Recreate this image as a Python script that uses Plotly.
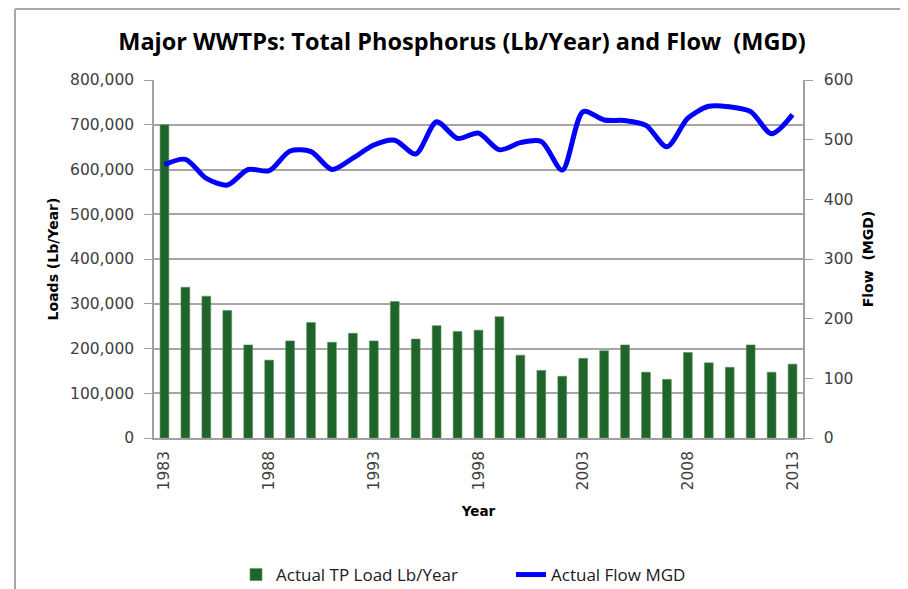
import plotly.graph_objects as go

years = list(range(1983, 2014))
tp_load = [700000, 337000, 317000, 285000, 208000, 174000, 217000, 258000, 214000, 234000,
           217000, 305000, 221000, 251000, 238000, 241000, 271000, 185000, 151000, 138000,
           178000, 195000, 208000, 147000, 131000, 191000, 168000, 158000, 208000, 147000,
           165000]
flow_mgd = [458, 467, 435, 424, 450, 448, 481, 480, 450, 469,
            491, 499, 476, 530, 502, 511, 483, 495, 497, 449,
            547, 533, 532, 524, 488, 536, 556, 555, 547, 510,
            542]
xtick_years = [1983, 1988, 1993, 1998, 2003, 2008, 2013]
load_ticks = list(range(0, 800001, 100000))
flow_ticks = list(range(0, 601, 100))

# page has an 8px body margin; figure coordinates = page coordinates - 8
OFF = 8
W, H = 908 - OFF, 589 - OFF
L, R, T, B = 154 - OFF, 803 - OFF, 80 - OFF, 438 - OFF

def px(x_page):
    return (x_page - OFF - L) / (R - L)

def py(y_page):
    return (B - (y_page - OFF)) / (B - T)

fig = go.Figure()
fig.add_trace(go.Bar(
    x=years, y=tp_load, name="Actual TP Load Lb/Year",
    marker=dict(color="#1F6428", line=dict(color="#5E8F62", width=0.6)),
    yaxis="y",
))
fig.add_trace(go.Scatter(
    x=years, y=flow_mgd, name="Actual Flow MGD", mode="lines",
    line=dict(color="#0000FF", width=5, shape="spline", smoothing=0.8),
    yaxis="y2",
))

tick_font = dict(family="DejaVu Sans", size=15.5, color="#404040")
title_font = dict(family="DejaVu Sans", size=14, color="#000000")

shapes = []
line_style = dict(color="#A8A8A8", width=2)
shapes.append(dict(type="line", xref="paper", yref="paper", x0=px(15), x1=px(15), y0=py(9), y1=py(600), line=line_style))
shapes.append(dict(type="line", xref="paper", yref="paper", x0=px(15), x1=px(904), y0=py(9), y1=py(9), line=line_style))
shapes.append(dict(type="line", xref="paper", yref="paper", x0=px(904), x1=px(904), y0=py(9), y1=py(600), line=line_style))

fig.update_layout(
    width=W, height=H,
    margin=dict(l=L, r=W - R, t=T, b=H - B, autoexpand=False),
    paper_bgcolor="white", plot_bgcolor="white",
    title=dict(text="<b>Major WWTPs: Total Phosphorus (Lb/Year) and Flow  (MGD)</b>",
               x=px(462), xanchor="center", xref="paper", y=1 - 34 / H, yanchor="middle",
               font=dict(family="Open Sans", size=23.5, color="#000000")),
    bargap=0.58,
    xaxis=dict(
        range=[1982.5, 2013.5], tickmode="array", tickvals=xtick_years,
        ticktext=[str(y) for y in xtick_years], tickangle=-90,
        tickfont=tick_font, showgrid=False, showline=True, linecolor="#A0A0A0", linewidth=1.5,
        ticks="", zeroline=False, automargin=False, ticklabelstandoff=5,
        title=dict(text="<b>Year</b>", font=dict(family="DejaVu Sans", size=13.5, color="#000000"), standoff=17),
    ),
    yaxis=dict(
        range=[0, 800000], tickvals=load_ticks, tickformat=",",
        tickfont=tick_font, showgrid=True, gridcolor="#A6A6A6", gridwidth=1.5,
        showline=True, linecolor="#A0A0A0", linewidth=1.5, ticks="outside", ticklen=8,
        tickcolor="#A0A0A0", zeroline=False, automargin=False, ticklabelstandoff=7,
        title=dict(text="<b>Loads (Lb/Year)</b>", font=title_font, standoff=8),
    ),
    yaxis2=dict(
        range=[0, 600], tickvals=flow_ticks, overlaying="y", side="right",
        tickfont=tick_font, showgrid=False, showline=True, linecolor="#A0A0A0", linewidth=1.5,
        ticks="outside", ticklen=8, tickcolor="#A0A0A0", zeroline=False, automargin=False,
        ticklabelstandoff=8,
        title=dict(text="<b>Flow  (MGD)</b>", font=title_font, standoff=11),
    ),
    legend=dict(orientation="h", x=px(236), xanchor="left", y=py(575), yanchor="middle",
                font=dict(family="Open Sans", size=17, color="#202020"),
                entrywidth=230, bgcolor="rgba(0,0,0,0)"),
    shapes=shapes,
    showlegend=True,
)

fig.write_html("out.html")
